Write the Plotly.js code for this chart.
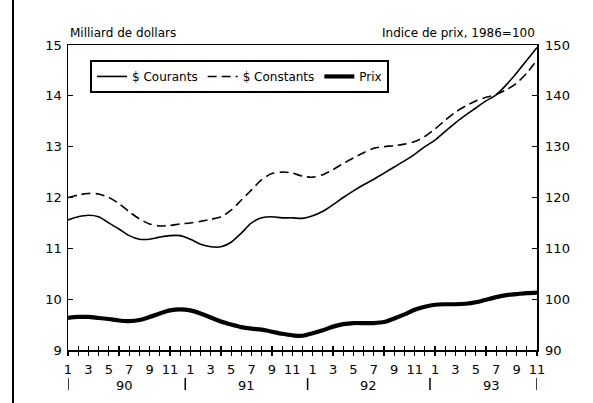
<!DOCTYPE html>
<html><head><meta charset="utf-8">
<script src="https://cdn.plot.ly/plotly-3.0.1.min.js"></script>
<style>html,body{margin:0;padding:0;background:#fff}#chart{width:593px;height:403px}</style>
</head><body><div id="chart"></div>
<script>
// Monthly data, January 1990 (index 0) to November 1993 (index 46)
const years = ["90", "91", "92", "93"];
const monthLabels = ["1","","3","","5","","7","","9","","11",""];
const courants = [11.56,11.62,11.65,11.62,11.50,11.38,11.25,11.18,11.18,11.22,11.25,11.25,
                  11.18,11.08,11.03,11.03,11.12,11.30,11.50,11.60,11.62,11.60,11.60,11.59,
                  11.64,11.73,11.86,12.00,12.13,12.25,12.36,12.48,12.60,12.72,12.85,13.00,
                  13.13,13.30,13.47,13.62,13.76,13.90,14.02,14.22,14.45,14.70,14.95];
const constants = [12.00,12.05,12.08,12.07,12.00,11.88,11.72,11.58,11.48,11.44,11.45,11.48,
                   11.50,11.53,11.57,11.62,11.75,11.95,12.15,12.35,12.47,12.50,12.48,12.42,
                   12.40,12.45,12.55,12.67,12.78,12.88,12.97,13.00,13.02,13.05,13.10,13.20,
                   13.35,13.52,13.68,13.80,13.90,13.97,14.03,14.12,14.25,14.45,14.70];
const prix = [96.3,96.5,96.5,96.3,96.1,95.8,95.7,95.9,96.5,97.2,97.8,98.0,
              97.8,97.2,96.4,95.6,95.0,94.5,94.2,94.0,93.6,93.2,92.9,92.8,
              93.3,93.9,94.6,95.1,95.3,95.3,95.3,95.5,96.2,97.0,97.9,98.5,
              98.9,99.0,99.0,99.1,99.4,99.9,100.4,100.8,101.0,101.2,101.3];

const x = courants.map((_, i) => i);
const tickText = x.map(i => monthLabels[i % 12]);
const font = "DejaVu Sans, Verdana, sans-serif";

const traces = [
  {x: x, y: courants, name: "$ Courants", type: "scatter", mode: "lines",
   line: {color: "#000", width: 1.6, shape: "spline", smoothing: 0.8}},
  {x: x, y: constants, name: "$ Constants", type: "scatter", mode: "lines",
   line: {color: "#000", width: 1.6, dash: "9px,5px", shape: "spline", smoothing: 0.8}},
  {x: x, y: prix, name: "Prix", type: "scatter", mode: "lines", yaxis: "y2",
   line: {color: "#000", width: 4.2, shape: "spline", smoothing: 0.8}},
  {x: x, y: prix, xaxis: "x2", yaxis: "y2", mode: "lines", showlegend: false,
   hoverinfo: "skip", line: {width: 0, color: "rgba(0,0,0,0)"}}
];

const shapes = [
  {type: "line", xref: "paper", yref: "paper", x0: -0.1173, x1: -0.1173, y0: -0.2, y1: 1.2,
   line: {color: "#000", width: 2}}
];
const sepPos = [0, 11.5, 23.5, 35.5, 46];
sepPos.forEach(p => shapes.push({type: "line", xref: "x", yref: "paper", x0: p, x1: p,
  y0: -0.092, y1: -0.131, line: {color: "#000", width: 1.5}}));

const annotations = [
  {text: "Milliard de dollars", xref: "paper", yref: "paper", x: 0, y: 1.039,
   xanchor: "left", yanchor: "middle", showarrow: false, font: {size: 12, color: "#000", family: font}},
  {text: "Indice de prix, 1986=100", xref: "paper", yref: "paper", x: 1, y: 1.039,
   xanchor: "right", yanchor: "middle", showarrow: false, font: {size: 12, color: "#000", family: font}}
];
years.forEach((yr, i) => annotations.push({text: yr, xref: "x", yref: "paper",
  x: 12 * i + 5.5, y: -0.115, xanchor: "center", yanchor: "middle", showarrow: false,
  font: {size: 13, color: "#000", family: font}}));

const layout = {
  width: 593, height: 403,
  margin: {l: 68, r: 56, t: 45, b: 53},
  paper_bgcolor: "#fff", plot_bgcolor: "#fff",
  font: {family: font, color: "#000", size: 13},
  showlegend: true,
  legend: {orientation: "h", x: 0.047, y: 0.951, xanchor: "left", yanchor: "top",
           bordercolor: "#000", borderwidth: 2, bgcolor: "#fff",
           font: {size: 12, family: font, color: "#000"}},
  xaxis: {range: [0, 46], tickmode: "array", tickvals: x, ticktext: tickText,
          ticks: "outside", ticklen: 4, tickwidth: 1.2, tickcolor: "#000",
          showline: true, linewidth: 1.5, linecolor: "#000", mirror: true,
          showgrid: false, zeroline: false, tickangle: 0, ticklabelstandoff: 3,
          tickfont: {size: 13}},
  xaxis2: {range: [0, 46], overlaying: "x", anchor: "y", tickmode: "array", tickvals: x,
           ticks: "inside", ticklen: 4, tickwidth: 1.2, tickcolor: "#000",
           showticklabels: false, showline: false, showgrid: false, zeroline: false},
  yaxis: {range: [9, 15], dtick: 1, ticks: "inside", ticklen: 5, tickwidth: 1.2,
          tickcolor: "#000", showline: true, linewidth: 1.5, linecolor: "#000",
          showgrid: false, zeroline: false, tickfont: {size: 13}, ticklabelstandoff: 2},
  yaxis2: {range: [90, 150], dtick: 10, overlaying: "y", side: "right", ticks: "inside",
           ticklen: 5, tickwidth: 1.2, tickcolor: "#000", showline: true, linewidth: 1.5,
           linecolor: "#000", showgrid: false, zeroline: false, tickfont: {size: 13},
           ticklabelstandoff: 4},
  shapes: shapes,
  annotations: annotations
};

Plotly.newPlot("chart", traces, layout, {displayModeBar: false, staticPlot: true});
</script>
</body></html>
